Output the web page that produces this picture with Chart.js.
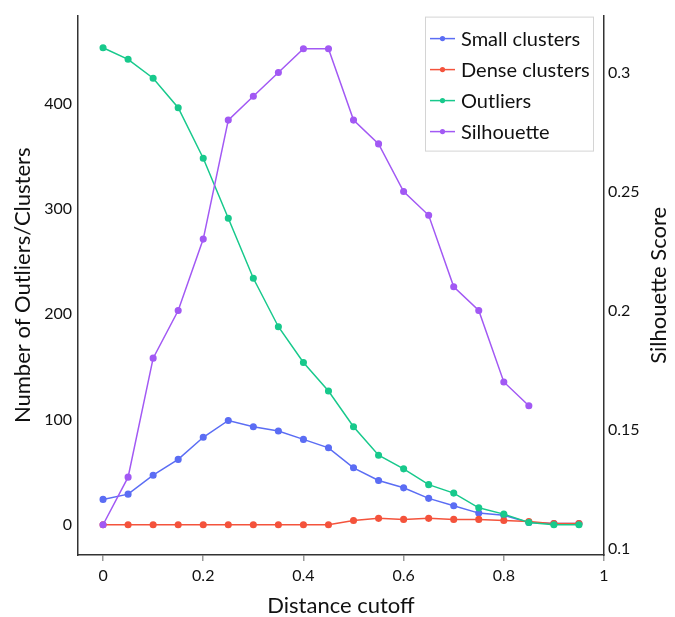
<!DOCTYPE html>
<html>
<head>
<meta charset="utf-8">
<script src="https://cdn.jsdelivr.net/npm/chart.js@4"></script>
<style>
  body { margin: 0; background: #fff; }
  #wrap { width: 675px; height: 617px; }
</style>
</head>
<body>
<div id="wrap"><canvas id="cutoffChart"></canvas></div>
<script>
const ctx = document.getElementById('cutoffChart');

//Prepare data
var cutoffs = [0, 0.05, 0.1, 0.15, 0.2, 0.25, 0.3, 0.35, 0.4, 0.45, 0.5, 0.55, 0.6, 0.65, 0.7, 0.75, 0.8, 0.85, 0.9, 0.95];
var smallClusters = [24, 29, 47, 62, 83, 99, 93, 89, 81, 73, 54, 42, 35, 25, 18, 11, 9, 2, 1, 1];
var denseClusters = [0, 0, 0, 0, 0, 0, 0, 0, 0, 0, 4, 6, 5, 6, 5, 5, 4, 3, 1, 1];
var outliers = [453, 442, 424, 396, 348, 291, 234, 188, 154, 127, 93, 66, 53, 38, 30, 16, 10, 2, 0, 0];
var silhouette = [0.11, 0.13, 0.18, 0.20, 0.23, 0.28, 0.29, 0.30, 0.31, 0.31, 0.28, 0.27, 0.25, 0.24, 0.21, 0.20, 0.17, 0.16];
var xTicks = [0, 0.2, 0.4, 0.6, 0.8, 1];
var leftTicks = [0, 100, 200, 300, 400];
var rightTicks = [0.1, 0.15, 0.2, 0.25, 0.3];

function points(values) {
    return values.map(function (v, i) { return { x: cutoffs[i], y: v }; });
}

var FONT = 'Lato, "Liberation Sans", sans-serif';

function series(label, values, color, axis, order) {
    return {
        label: label,
        data: points(values),
        yAxisID: axis,
        borderColor: color,
        backgroundColor: color,
        pointBackgroundColor: color,
        pointBorderColor: color,
        borderWidth: 1.5,
        pointRadius: 2.8,
        pointHoverRadius: 2.8,
        tension: 0,
        order: order
    };
}

//Legend box drawn inside the plot, plus right title reading bottom-to-top
const extras = {
    id: 'extras',
    afterDraw: function (chart) {
        const c = chart.ctx;
        const area = chart.chartArea;
        c.save();
        // right axis title
        c.font = '22px ' + FONT;
        c.fillStyle = '#111';
        c.textAlign = 'center';
        c.textBaseline = 'middle';
        c.translate(659, (area.top + area.bottom) / 2);
        c.rotate(-Math.PI / 2);
        c.fillText('Silhouette Score', 0, 0);
        c.restore();

        // legend
        c.save();
        const bx = area.right - 179, by = area.top + 1, bw = 168, bh = 134;
        c.fillStyle = '#fff';
        c.fillRect(bx, by, bw, bh);
        c.strokeStyle = '#d4d4d4';
        c.lineWidth = 1;
        c.strokeRect(bx + 0.5, by + 0.5, bw, bh);
        c.font = '20px ' + FONT;
        c.textAlign = 'left';
        c.textBaseline = 'middle';
        chart.data.datasets.forEach(function (ds, i) {
            const y = by + 22 + i * 31;
            c.strokeStyle = ds.borderColor;
            c.lineWidth = 1.5;
            c.beginPath();
            c.moveTo(bx + 5, y);
            c.lineTo(bx + 30, y);
            c.stroke();
            c.fillStyle = ds.borderColor;
            c.beginPath();
            c.arc(bx + 17.5, y, 2.6, 0, Math.PI * 2);
            c.fill();
            c.fillStyle = '#111';
            c.fillText(ds.label, bx + 36, y + 1);
        });
        c.restore();
    }
};

function fmt(v) { return String(+(+v).toFixed(2)); }

//Create chart
new Chart(ctx, {
    type: 'line',
    data: {
        datasets: [
            series('Small clusters', smallClusters, '#5B6DF4', 'y', 4),
            series('Dense clusters', denseClusters, '#F4533C', 'y', 3),
            series('Outliers', outliers, '#18C98C', 'y', 2),
            series('Silhouette', silhouette, '#A259F4', 'y2', 1)
        ]
    },
    options: {
        responsive: true,
        maintainAspectRatio: false,
        animation: false,
        layout: { padding: { top: 12, left: 0, right: 0, bottom: 0 } },
        plugins: {
            legend: { display: false },
            tooltip: { enabled: false }
        },
        scales: {
            x: {
                type: 'linear',
                min: -0.05,
                max: 1.0,
                afterFit: function (s) { s.height = 62; },
                afterBuildTicks: function (s) { s.ticks = xTicks.map(function (v) { return { value: v }; }); },
                grid: { display: true, drawOnChartArea: false, drawTicks: true, tickLength: 6, color: '#999', lineWidth: 1.5 },
                border: { display: true, color: '#333', width: 1.5 },
                ticks: { callback: fmt, color: '#111', padding: 5, maxRotation: 0, font: { family: FONT, size: 16 } },
                title: { display: true, text: 'Distance cutoff', color: '#111', padding: 0, font: { family: FONT, size: 22, lineHeight: 1 } }
            },
            y: {
                position: 'left',
                min: -28.8,
                max: 483.5,
                afterFit: function (s) { s.width = 78; },
                afterBuildTicks: function (s) { s.ticks = leftTicks.map(function (v) { return { value: v }; }); },
                grid: { display: false, drawTicks: false },
                border: { display: true, color: '#333', width: 1.5 },
                ticks: { callback: fmt, color: '#111', padding: 6, font: { family: FONT, size: 16 } },
                title: { display: true, text: 'Number of Outliers/Clusters', color: '#111', padding: { top: 12, bottom: 0 }, font: { family: FONT, size: 22, lineHeight: 1 } }
            },
            y2: {
                position: 'right',
                min: 0.0973,
                max: 0.3239,
                afterFit: function (s) { s.width = 71; },
                afterBuildTicks: function (s) { s.ticks = rightTicks.map(function (v) { return { value: v }; }); },
                grid: { display: false, drawTicks: false },
                border: { display: true, color: '#333', width: 1.5 },
                ticks: { callback: fmt, color: '#111', padding: 4, font: { family: FONT, size: 16 } }
            }
        }
    },
    plugins: [extras]
});
</script>
</body>
</html>
